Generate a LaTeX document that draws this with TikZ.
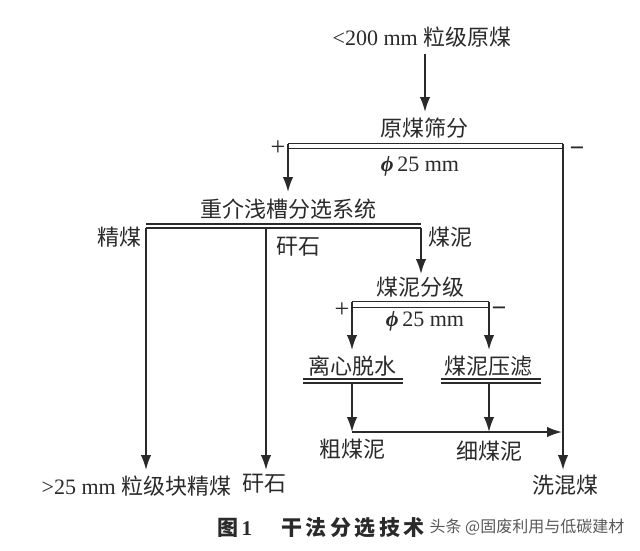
\documentclass[tikz,border=0pt]{standalone}
\usepackage{fontspec}
\setmainfont{Liberation Serif}
\newfontfamily\cjk{Noto Sans CJK SC}[Scale=1]
\usetikzlibrary{arrows.meta}
\definecolor{ink}{HTML}{2A2A2A}
\tikzset{
  lab/.style={inner sep=0pt,text=ink,font=\fontsize{22}{24}\selectfont},
  flow/.style={draw=ink,line width=1.8pt,-{Latex[length=15pt,width=10.5pt]}},
  plain/.style={draw=ink,line width=2.2pt},
  thinbar/.style={draw=ink,line width=1.8pt},
  sign/.style={inner sep=0pt,text=ink,font=\fontsize{26}{28}\selectfont}
}
\begin{document}
\begin{tikzpicture}[x=1pt,y=-1pt]
\useasboundingbox (0,0) rectangle (640,550);
\fill[white] (0,0) rectangle (640,550);
% labels
\node[lab] (raw) at (422,37) {<200 mm {\cjk 粒级原煤}};
\node[lab] (screen) at (424,128) {\cjk 原煤筛分};
\node[lab] (phiA) at (420,166) {{\bfseries\itshape ϕ}\,25 mm};
\node[sign] (plusA) at (278,148.5) {+};
\node[sign] (minusA) at (577,151.5) {\bfseries\textminus};
\node[lab] (dms) at (288,209) {\cjk 重介浅槽分选系统};
\node[lab] (clean) at (119,237) {\cjk 精煤};
\node[lab] (gangue) at (298,247) {\cjk 矸石};
\node[lab] (slime) at (450,237) {\cjk 煤泥};
\node[lab] (grade) at (420,287) {\cjk 煤泥分级};
\node[sign] (plusB) at (342,310.5) {+};
\node[sign] (minusB) at (499,311.5) {\bfseries\textminus};
\node[lab] (phiB) at (425,321) {{\bfseries\itshape ϕ}\,25 mm};
\node[lab] (centri) at (352,366) {\cjk 离心脱水};
\node[lab] (press) at (488,366) {\cjk 煤泥压滤};
\node[lab] (coarse) at (352,449) {\cjk 粗煤泥};
\node[lab] (fine) at (489,451) {\cjk 细煤泥};
\node[lab] (prodA) at (136.5,486) {>25 mm {\cjk 粒级块精煤}};
\node[lab] (prodB) at (264,484) {\cjk 矸石};
\node[lab] (prodC) at (565,485) {\cjk 洗混煤};
\node[inner sep=0pt,text=ink,font=\fontsize{21}{23}\selectfont\bfseries] (cap) at (321,528) {{\cjk\bfseries 图}\,1\hspace{1.4em}{\cjk\bfseries 干\,法\,分\,选\,技\,术}};
\node[inner sep=0pt,text=black!65,font=\fontsize{16}{18}\selectfont] (mark) at (527,527) {\cjk 头条 @固废利用与低碳建材};
% coordinates
\coordinate (rawOut) at (425,54);
\coordinate (screenIn) at (425,112);
\coordinate (a1) at (288,143.5); \coordinate (a2) at (563,143.5);
\coordinate (a3) at (288,148.5); \coordinate (a4) at (563,148.5);
\coordinate (dmsIn) at (288,192);
\coordinate (b1) at (146,224); \coordinate (b2) at (421,224);
\coordinate (b3) at (146,228); \coordinate (b4) at (421,228);
\coordinate (b5) at (266,228);
\coordinate (gradeIn) at (421,274);
\coordinate (c1) at (352,301.5); \coordinate (c2) at (489,301.5);
\coordinate (c3) at (352,307.5); \coordinate (c4) at (489,307.5);
\coordinate (centriIn) at (352,350); \coordinate (pressIn) at (489,350);
\coordinate (d1) at (303,379); \coordinate (d2) at (403,379);
\coordinate (d3) at (303,383); \coordinate (d4) at (403,383);
\coordinate (e1) at (441,379); \coordinate (e2) at (541,379);
\coordinate (e3) at (441,383); \coordinate (e4) at (541,383);
\coordinate (dOut) at (352,383); \coordinate (eOut) at (489,383);
\coordinate (jA) at (352,432); \coordinate (jB) at (489,432);
\coordinate (jC) at (562,432);
\coordinate (endA) at (146,470); \coordinate (endB) at (266,470); \coordinate (endC) at (563,470);
% bars
\draw[thinbar] (a1) -- (a2); \draw[thinbar] (a3) -- (a4);
\draw[plain] (b1) -- (b2); \draw[plain] (b3) -- (b4);
\draw[thinbar] (c1) -- (c2); \draw[thinbar] (c3) -- (c4);
\draw[thinbar] (d1) -- (d2); \draw[thinbar] (d3) -- (d4);
\draw[thinbar] (e1) -- (e2); \draw[thinbar] (e3) -- (e4);
\draw[thinbar] (a1) -- (a3); \draw[thinbar] (a2) -- (a4);
\draw[thinbar] (c1) -- (c3); \draw[thinbar] (c2) -- (c4);
% connectors
\draw[flow] (rawOut) -- (screenIn);
\draw[flow] (a3) -- (dmsIn);
\draw[flow] (a4) -- (endC);
\draw[flow] (b3) -- (endA);
\draw[flow] (b5) -- (endB);
\draw[flow] (b4) -- (gradeIn);
\draw[flow] (c3) -- (centriIn);
\draw[flow] (c4) -- (pressIn);
\draw[flow] (dOut) -- (jA);
\draw[flow] (eOut) -- (jB);
\draw[flow] (jA) -- (jC);
\end{tikzpicture}
\end{document}
